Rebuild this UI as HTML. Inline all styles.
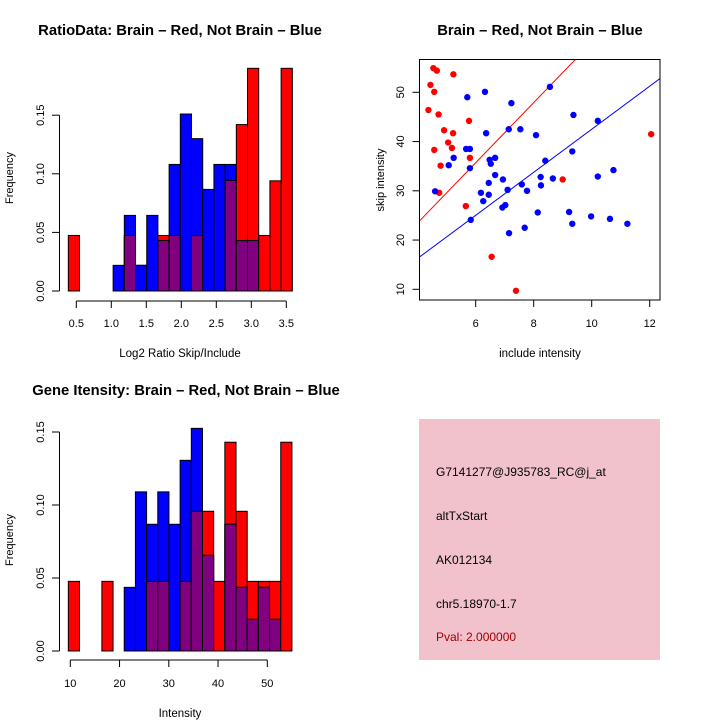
<!DOCTYPE html>
<html><head><meta charset="utf-8"><style>
body{margin:0;background:#fff}
svg{display:block;font-family:"Liberation Sans",sans-serif}
</style></head><body>
<svg id="c" width="720" height="720" viewBox="0 0 720 720"></svg>
<script>
// ---- Data: ratio histogram ----
const ratioBinStart = 0.386, ratioBinWidth = 0.16;
const ratioRed  = [0.0474,0,0,0,0,0.0474,0,0,0.0474,0.0474,0,0.0474,0,0,0.0943,0.142,0.19,0.0474,0.094,0.19];
const ratioBlue = [0,0,0,0,0.0219,0.0645,0.022,0.0645,0.043,0.108,0.151,0.130,0.0867,0.108,0.108,0.043,0.043,0,0,0];
const ratioXTicks = [0.5,1.0,1.5,2.0,2.5,3.0,3.5];
const freqTicks = [0,0.05,0.10,0.15];
// ---- Data: intensity histogram ----
const intBinStart = 9.6, intBinWidth = 2.27;
const intRed  = [0.0477,0,0,0.0477,0,0,0,0.0477,0.0477,0,0.0477,0.0957,0.0957,0.0477,0.143,0.0957,0.0477,0.0477,0.0477,0.143];
const intBlue = [0,0,0,0,0,0.0436,0.109,0.0868,0.109,0.0868,0.1306,0.1525,0.0655,0,0.0868,0.0436,0.0217,0.0436,0.0217,0];
const intXTicks = [10,20,30,40,50];
// ---- Data: scatter ----
const redX = [4.54,4.66,5.23,4.44,4.57,4.37,4.72,5.77,4.91,5.22,5.05,5.18,4.57,5.80,4.79,4.74,5.66,9.0,12.05,6.55,7.39];
const redY = [54.9,54.4,53.65,51.5,50.1,46.4,45.5,44.2,42.3,41.7,39.8,38.7,38.3,36.7,35.1,29.6,26.9,32.3,41.5,16.6,9.7];
const blueX = [8.56,6.32,5.71,7.23,9.37,10.21,6.36,7.14,7.54,8.08,5.67,5.80,9.33,5.24,5.07,6.48,6.67,6.52,5.80,8.40,6.67,10.75,10.21,8.24,8.66,6.94,6.45,7.59,8.25,7.10,7.77,4.60,6.18,6.45,6.26,7.02,6.92,8.14,9.22,9.98,10.63,5.83,9.33,11.23,7.69,7.15];
const blueY = [51.1,50.1,49.0,47.8,45.4,44.2,41.7,42.5,42.5,41.3,38.5,38.5,38.0,36.7,35.2,36.3,36.7,35.5,34.6,36.1,33.2,34.2,32.9,32.8,32.5,32.3,31.6,31.3,31.1,30.2,30.0,29.9,29.6,29.2,27.9,27.1,26.6,25.6,25.7,24.8,24.3,24.1,23.3,23.3,22.5,21.4];
const redLine = [-0.9, 6.1];   // intercept, slope
const blueLine = [-1.2, 4.37];
const scXTicks = [6,8,10,12];
const scYTicks = [10,20,30,40,50];

const svg = document.getElementById('c');
const NS = 'http://www.w3.org/2000/svg';
function mk(tag, attrs, parent){const e=document.createElementNS(NS,tag);for(const k in attrs)e.setAttribute(k,attrs[k]);(parent||svg).appendChild(e);return e;}
function txt(s, x, y, size, opts){const e=mk('text',Object.assign({x:x,y:y,'font-size':size,'text-anchor':'middle'},opts||{}));e.textContent=s;return e;}

function hist(g, xs, ys, binStart, binW, red, blue, xticks, axisY, tickLabelY, fmtX){
  for(let i=0;i<red.length;i++){
    const x0=xs(binStart+i*binW), x1=xs(binStart+(i+1)*binW);
    if(red[i]>0){const r=mk('rect',{x:x0,y:ys(red[i]),width:x1-x0,height:ys(0)-ys(red[i]),fill:'#ff0000',stroke:'#000','stroke-width':1},g);
      
      }
    if(blue[i]>0){const b=mk('rect',{x:x0,y:ys(blue[i]),width:x1-x0,height:ys(0)-ys(blue[i]),fill:'#0000ff',stroke:'#000','stroke-width':1},g);
      
      }
    const m=Math.min(red[i],blue[i]);
    if(m>0){const p=mk('rect',{x:x0,y:ys(m),width:x1-x0,height:ys(0)-ys(m),fill:'#800080',stroke:'#000','stroke-width':1},g);
      
      }
  }
  mk('line',{x1:59.5,x2:59.5,y1:ys(0),y2:ys(0.15),stroke:'#000'},g);
  freqTicks.forEach(v=>{
    mk('line',{x1:52,x2:59.5,y1:ys(v),y2:ys(v),stroke:'#000'},g);
    const t=txt(v.toFixed(2),0,0,11,{transform:`translate(44,${ys(v)}) rotate(-90)`});
    
    
  });
  mk('line',{x1:xs(xticks[0]),x2:xs(xticks[xticks.length-1]),y1:axisY,y2:axisY,stroke:'#000'},g);
  xticks.forEach(v=>{
    mk('line',{x1:xs(v),x2:xs(v),y1:axisY,y2:axisY+7,stroke:'#000'},g);
    const t=txt(fmtX(v),xs(v),tickLabelY,11);
    
    
  });
}

const g1=mk('g',{});


const xs1=v=>76.3+(v-0.5)*70, ys1=v=>291-v/0.05*58.6;
hist(g1,xs1,ys1,ratioBinStart,ratioBinWidth,ratioRed,ratioBlue,ratioXTicks,301,327,v=>v.toFixed(1));
let t=txt('RatioData: Brain – Red, Not Brain – Blue',180,35,14.8,{'font-weight':'bold'});

t=txt('Log2 Ratio Skip/Include',180,357,11.5);

t=txt('Frequency',0,0,11,{transform:'translate(13,178) rotate(-90)'});


const g2=mk('g',{});


const xs2=v=>70.3+(v-10)*4.925, ys2=v=>651-v/0.05*73;
hist(g2,xs2,ys2,intBinStart,intBinWidth,intRed,intBlue,intXTicks,660,687,v=>String(v));
t=txt('Gene Itensity: Brain – Red, Not Brain – Blue',186,395,14.8,{'font-weight':'bold'});

t=txt('Intensity',180,717,11.5);

t=txt('Frequency',0,0,11,{transform:'translate(13,540) rotate(-90)'});


const g3=mk('g',{});


const sxs=v=>475.7+(v-6)*29, sys=v=>289.3-(v-10)*4.925;
const L=419.5,R=660,T=59.5,B=300;
const cp=mk('clipPath',{id:'clipS'},g3);
mk('rect',{x:L,y:T,width:R-L,height:B-T},cp);
const clipG=mk('g',{'clip-path':'url(#clipS)'},g3);
[[redLine,'#ff0000','red-fit-line'],[blueLine,'#0000ff','blue-fit-line']].forEach(([ln,col,nm])=>{
  const xa=4.0,xb=12.5;
  const l=mk('line',{x1:sxs(xa),y1:sys(ln[0]+ln[1]*xa),x2:sxs(xb),y2:sys(ln[0]+ln[1]*xb),stroke:col,'stroke-width':1},clipG);
  
  
});
redX.forEach((x,i)=>{const c=mk('circle',{cx:sxs(x),cy:sys(redY[i]),r:3.2,fill:'#ff0000'},g3);
  
  });
blueX.forEach((x,i)=>{const c=mk('circle',{cx:sxs(x),cy:sys(blueY[i]),r:3.2,fill:'#0000ff'},g3);
  
  });
mk('rect',{x:L,y:T,width:R-L,height:B-T,fill:'none',stroke:'#000'},g3);
scXTicks.forEach(v=>{mk('line',{x1:sxs(v),x2:sxs(v),y1:B,y2:B+7,stroke:'#000'},g3);
  const tt=txt(String(v),sxs(v),327,11);
  
  });
scYTicks.forEach(v=>{mk('line',{x1:L-7,x2:L,y1:sys(v),y2:sys(v),stroke:'#000'},g3);
  const tt=txt(String(v),0,0,11,{transform:`translate(404,${sys(v)}) rotate(-90)`});
  
  });
t=txt('Brain – Red, Not Brain – Blue',540,35,14.8,{'font-weight':'bold'});

t=txt('include intensity',540,357,11.5);

t=txt('skip intensity',0,0,11,{transform:'translate(384,180) rotate(-90)'});


const g4=mk('g',{});


mk('rect',{x:419,y:419,width:241,height:241,fill:'#f2c2cc'},g4);
const info=[['G7141277@J935783_RC@j_at',476,'#000','probe-id'],['altTxStart',520,'#000','event-type'],['AK012134',564,'#000','accession'],['chr5.18970-1.7',608,'#000','location'],['Pval: 2.000000',641,'#a00000','p-value']];
info.forEach(([s,y,c,n])=>{const e=txt(s,436,y,12,{'text-anchor':'start',fill:c},g4);
  
  });
</script>
</body></html>
